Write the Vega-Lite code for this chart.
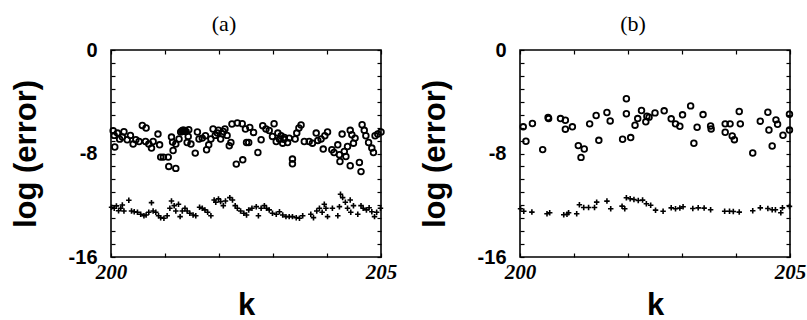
{
  "$schema": "https://vega.github.io/schema/vega-lite/v6.json",
  "padding": {"left": 9, "top": 12, "right": 8, "bottom": 4},
  "background": "white",
  "spacing": 20,
  "config": {
    "view": {"stroke": "black", "strokeWidth": 1.6},
    "title": {"font": "Liberation Serif", "fontSize": 22, "fontWeight": "normal", "color": "black", "offset": 4, "dx": -22}
  },
  "datasets": {
    "a": [
      {"k":200.04,"err":-6.24,"series":"circle"},{"k":200.06,"err":-6.6,"series":"circle"},{"k":200.07,"err":-7.5,"series":"circle"},{"k":200.12,"err":-6.42,"series":"circle"},{"k":200.16,"err":-6.89,"series":"circle"},{"k":200.24,"err":-6.32,"series":"circle"},{"k":200.21,"err":-6.73,"series":"circle"},{"k":200.30,"err":-6.94,"series":"circle"},{"k":200.36,"err":-6.6,"series":"circle"},{"k":200.41,"err":-7.27,"series":"circle"},{"k":200.46,"err":-6.94,"series":"circle"},{"k":200.52,"err":-7.07,"series":"circle"},{"k":200.58,"err":-5.83,"series":"circle"},{"k":200.65,"err":-6.03,"series":"circle"},{"k":200.64,"err":-7.07,"series":"circle"},{"k":200.70,"err":-7.27,"series":"circle"},{"k":200.75,"err":-7.58,"series":"circle"},{"k":200.78,"err":-7.07,"series":"circle"},{"k":200.87,"err":-6.5,"series":"circle"},{"k":200.90,"err":-7.33,"series":"circle"},{"k":200.92,"err":-8.28,"series":"circle"},{"k":200.97,"err":-8.28,"series":"circle"},{"k":201.06,"err":-8.28,"series":"circle"},{"k":201.07,"err":-9.0,"series":"circle"},{"k":201.20,"err":-9.15,"series":"circle"},{"k":201.12,"err":-6.73,"series":"circle"},{"k":201.14,"err":-7.12,"series":"circle"},{"k":201.15,"err":-7.77,"series":"circle"},{"k":201.20,"err":-7.27,"series":"circle"},{"k":201.26,"err":-6.88,"series":"circle"},{"k":201.29,"err":-6.34,"series":"circle"},{"k":201.33,"err":-6.21,"series":"circle"},{"k":201.37,"err":-6.29,"series":"circle"},{"k":201.41,"err":-7.15,"series":"circle"},{"k":201.43,"err":-6.68,"series":"circle"},{"k":201.44,"err":-6.16,"series":"circle"},{"k":201.48,"err":-7.27,"series":"circle"},{"k":201.56,"err":-7.97,"series":"circle"},{"k":201.60,"err":-6.34,"series":"circle"},{"k":201.63,"err":-6.88,"series":"circle"},{"k":201.69,"err":-6.81,"series":"circle"},{"k":201.75,"err":-6.63,"series":"circle"},{"k":201.77,"err":-7.71,"series":"circle"},{"k":201.81,"err":-7.33,"series":"circle"},{"k":201.85,"err":-6.88,"series":"circle"},{"k":201.89,"err":-6.11,"series":"circle"},{"k":201.93,"err":-6.6,"series":"circle"},{"k":201.97,"err":-6.42,"series":"circle"},{"k":202.03,"err":-6.88,"series":"circle"},{"k":202.06,"err":-6.47,"series":"circle"},{"k":202.11,"err":-6.11,"series":"circle"},{"k":202.19,"err":-7.4,"series":"circle"},{"k":202.22,"err":-7.15,"series":"circle"},{"k":202.24,"err":-5.72,"series":"circle"},{"k":202.32,"err":-8.82,"series":"circle"},{"k":202.34,"err":-5.64,"series":"circle"},{"k":202.43,"err":-5.7,"series":"circle"},{"k":202.44,"err":-8.49,"series":"circle"},{"k":202.49,"err":-6.11,"series":"circle"},{"k":202.51,"err":-7.15,"series":"circle"},{"k":202.55,"err":-7.15,"series":"circle"},{"k":202.57,"err":-5.98,"series":"circle"},{"k":202.64,"err":-6.37,"series":"circle"},{"k":202.72,"err":-7.92,"series":"circle"},{"k":202.78,"err":-6.94,"series":"circle"},{"k":202.81,"err":-5.85,"series":"circle"},{"k":202.87,"err":-6.11,"series":"circle"},{"k":202.93,"err":-6.22,"series":"circle"},{"k":202.99,"err":-6.68,"series":"circle"},{"k":203.02,"err":-5.7,"series":"circle"},{"k":203.06,"err":-7.07,"series":"circle"},{"k":203.09,"err":-6.42,"series":"circle"},{"k":203.15,"err":-6.63,"series":"circle"},{"k":203.18,"err":-7.2,"series":"circle"},{"k":203.21,"err":-6.76,"series":"circle"},{"k":203.27,"err":-7.15,"series":"circle"},{"k":203.30,"err":-6.81,"series":"circle"},{"k":203.36,"err":-8.43,"series":"circle"},{"k":203.36,"err":-8.8,"series":"circle"},{"k":203.41,"err":-6.88,"series":"circle"},{"k":203.44,"err":-6.42,"series":"circle"},{"k":203.48,"err":-6.03,"series":"circle"},{"k":203.52,"err":-5.8,"series":"circle"},{"k":203.58,"err":-7.07,"series":"circle"},{"k":203.67,"err":-7.07,"series":"circle"},{"k":203.73,"err":-7.2,"series":"circle"},{"k":203.80,"err":-6.42,"series":"circle"},{"k":203.83,"err":-6.99,"series":"circle"},{"k":203.89,"err":-6.88,"series":"circle"},{"k":203.93,"err":-7.66,"series":"circle"},{"k":203.96,"err":-6.63,"series":"circle"},{"k":204.01,"err":-6.34,"series":"circle"},{"k":204.09,"err":-7.71,"series":"circle"},{"k":204.13,"err":-7.92,"series":"circle"},{"k":204.20,"err":-7.33,"series":"circle"},{"k":204.23,"err":-8.1,"series":"circle"},{"k":204.24,"err":-8.62,"series":"circle"},{"k":204.28,"err":-6.5,"series":"circle"},{"k":204.32,"err":-7.84,"series":"circle"},{"k":204.35,"err":-8.23,"series":"circle"},{"k":204.38,"err":-7.46,"series":"circle"},{"k":204.43,"err":-8.95,"series":"circle"},{"k":204.43,"err":-6.21,"series":"circle"},{"k":204.46,"err":-6.55,"series":"circle"},{"k":204.49,"err":-7.2,"series":"circle"},{"k":204.52,"err":-6.81,"series":"circle"},{"k":204.60,"err":-8.69,"series":"circle"},{"k":204.63,"err":-9.4,"series":"circle"},{"k":204.65,"err":-5.78,"series":"circle"},{"k":204.69,"err":-6.21,"series":"circle"},{"k":204.72,"err":-6.63,"series":"circle"},{"k":204.77,"err":-7.15,"series":"circle"},{"k":204.83,"err":-7.58,"series":"circle"},{"k":204.86,"err":-7.92,"series":"circle"},{"k":204.89,"err":-6.63,"series":"circle"},{"k":204.94,"err":-6.5,"series":"circle"},{"k":205.0,"err":-6.34,"series":"circle"},{"k":201.31,"err":-6.25,"series":"circle"},{"k":201.35,"err":-6.2,"series":"circle"},{"k":201.39,"err":-6.3,"series":"circle"},{"k":201.99,"err":-6.2,"series":"circle"},{"k":202.08,"err":-6.3,"series":"circle"},{"k":202.15,"err":-6.6,"series":"circle"},{"k":203.12,"err":-6.9,"series":"circle"},{"k":203.2,"err":-6.9,"series":"circle"},
      {"k":200.01,"err":-12.16,"series":"plus"},{"k":200.06,"err":-12.23,"series":"plus"},{"k":200.10,"err":-12.05,"series":"plus"},{"k":200.14,"err":-12.42,"series":"plus"},{"k":200.18,"err":-12.23,"series":"plus"},{"k":200.21,"err":-11.98,"series":"plus"},{"k":200.24,"err":-12.44,"series":"plus"},{"k":200.33,"err":-11.61,"series":"plus"},{"k":200.38,"err":-12.44,"series":"plus"},{"k":200.43,"err":-12.5,"series":"plus"},{"k":200.49,"err":-12.54,"series":"plus"},{"k":200.55,"err":-12.7,"series":"plus"},{"k":200.61,"err":-12.81,"series":"plus"},{"k":200.65,"err":-12.75,"series":"plus"},{"k":200.70,"err":-12.54,"series":"plus"},{"k":200.75,"err":-11.8,"series":"plus"},{"k":200.78,"err":-12.44,"series":"plus"},{"k":200.83,"err":-12.54,"series":"plus"},{"k":200.88,"err":-12.81,"series":"plus"},{"k":200.92,"err":-12.96,"series":"plus"},{"k":200.98,"err":-13.01,"series":"plus"},{"k":201.04,"err":-12.81,"series":"plus"},{"k":201.09,"err":-12.23,"series":"plus"},{"k":201.12,"err":-11.67,"series":"plus"},{"k":201.17,"err":-12.03,"series":"plus"},{"k":201.20,"err":-12.44,"series":"plus"},{"k":201.25,"err":-11.92,"series":"plus"},{"k":201.28,"err":-12.88,"series":"plus"},{"k":201.32,"err":-12.44,"series":"plus"},{"k":201.37,"err":-12.23,"series":"plus"},{"k":201.41,"err":-12.44,"series":"plus"},{"k":201.46,"err":-12.62,"series":"plus"},{"k":201.52,"err":-12.75,"series":"plus"},{"k":201.57,"err":-12.81,"series":"plus"},{"k":201.64,"err":-12.16,"series":"plus"},{"k":201.69,"err":-12.23,"series":"plus"},{"k":201.74,"err":-12.36,"series":"plus"},{"k":201.79,"err":-12.54,"series":"plus"},{"k":201.85,"err":-12.81,"series":"plus"},{"k":201.91,"err":-11.59,"series":"plus"},{"k":201.94,"err":-11.77,"series":"plus"},{"k":201.99,"err":-11.51,"series":"plus"},{"k":202.03,"err":-11.72,"series":"plus"},{"k":202.08,"err":-12.03,"series":"plus"},{"k":202.12,"err":-11.67,"series":"plus"},{"k":202.20,"err":-11.41,"series":"plus"},{"k":202.25,"err":-11.59,"series":"plus"},{"k":202.30,"err":-12.03,"series":"plus"},{"k":202.34,"err":-12.23,"series":"plus"},{"k":202.40,"err":-12.44,"series":"plus"},{"k":202.46,"err":-12.62,"series":"plus"},{"k":202.51,"err":-12.75,"series":"plus"},{"k":202.55,"err":-12.36,"series":"plus"},{"k":202.61,"err":-12.23,"series":"plus"},{"k":202.69,"err":-12.11,"series":"plus"},{"k":202.73,"err":-12.81,"series":"plus"},{"k":202.78,"err":-12.23,"series":"plus"},{"k":202.84,"err":-12.03,"series":"plus"},{"k":202.88,"err":-12.23,"series":"plus"},{"k":202.93,"err":-12.36,"series":"plus"},{"k":202.99,"err":-12.62,"series":"plus"},{"k":203.06,"err":-12.7,"series":"plus"},{"k":203.12,"err":-12.5,"series":"plus"},{"k":203.18,"err":-12.75,"series":"plus"},{"k":203.24,"err":-12.88,"series":"plus"},{"k":203.30,"err":-12.88,"series":"plus"},{"k":203.36,"err":-12.88,"series":"plus"},{"k":203.43,"err":-12.96,"series":"plus"},{"k":203.49,"err":-13.01,"series":"plus"},{"k":203.55,"err":-12.81,"series":"plus"},{"k":203.70,"err":-12.7,"series":"plus"},{"k":203.75,"err":-12.96,"series":"plus"},{"k":203.81,"err":-12.44,"series":"plus"},{"k":203.86,"err":-12.23,"series":"plus"},{"k":203.91,"err":-12.54,"series":"plus"},{"k":203.95,"err":-11.92,"series":"plus"},{"k":203.98,"err":-12.23,"series":"plus"},{"k":204.01,"err":-12.88,"series":"plus"},{"k":204.10,"err":-12.23,"series":"plus"},{"k":204.20,"err":-12.81,"series":"plus"},{"k":204.23,"err":-12.11,"series":"plus"},{"k":204.25,"err":-11.15,"series":"plus"},{"k":204.29,"err":-11.41,"series":"plus"},{"k":204.34,"err":-11.77,"series":"plus"},{"k":204.38,"err":-12.23,"series":"plus"},{"k":204.43,"err":-11.59,"series":"plus"},{"k":204.44,"err":-12.54,"series":"plus"},{"k":204.49,"err":-12.03,"series":"plus"},{"k":204.57,"err":-12.7,"series":"plus"},{"k":204.63,"err":-12.03,"series":"plus"},{"k":204.67,"err":-12.23,"series":"plus"},{"k":204.73,"err":-12.36,"series":"plus"},{"k":204.78,"err":-12.19,"series":"plus"},{"k":204.83,"err":-12.5,"series":"plus"},{"k":204.88,"err":-12.88,"series":"plus"},{"k":204.92,"err":-12.54,"series":"plus"},{"k":204.99,"err":-12.23,"series":"plus"}
    ],
    "b": [
      {"k":200.06,"err":-5.94,"series":"circle"},{"k":200.11,"err":-7.05,"series":"circle"},{"k":200.23,"err":-5.68,"series":"circle"},{"k":200.42,"err":-7.7,"series":"circle"},{"k":200.52,"err":-5.22,"series":"circle"},{"k":200.53,"err":-5.3,"series":"circle"},{"k":200.75,"err":-5.3,"series":"circle"},{"k":200.84,"err":-5.43,"series":"circle"},{"k":200.84,"err":-6.12,"series":"circle"},{"k":200.97,"err":-5.94,"series":"circle"},{"k":201.08,"err":-7.39,"series":"circle"},{"k":201.19,"err":-7.65,"series":"circle"},{"k":201.13,"err":-8.3,"series":"circle"},{"k":201.29,"err":-5.71,"series":"circle"},{"k":201.41,"err":-5.06,"series":"circle"},{"k":201.46,"err":-6.98,"series":"circle"},{"k":201.61,"err":-4.83,"series":"circle"},{"k":201.67,"err":-5.48,"series":"circle"},{"k":201.90,"err":-6.9,"series":"circle"},{"k":201.97,"err":-3.77,"series":"circle"},{"k":201.97,"err":-4.93,"series":"circle"},{"k":202.05,"err":-6.77,"series":"circle"},{"k":202.13,"err":-5.81,"series":"circle"},{"k":202.18,"err":-5.3,"series":"circle"},{"k":202.25,"err":-4.68,"series":"circle"},{"k":202.33,"err":-5.55,"series":"circle"},{"k":202.35,"err":-5.12,"series":"circle"},{"k":202.39,"err":-5.19,"series":"circle"},{"k":202.50,"err":-4.86,"series":"circle"},{"k":202.67,"err":-4.7,"series":"circle"},{"k":202.80,"err":-5.32,"series":"circle"},{"k":202.88,"err":-5.71,"series":"circle"},{"k":202.96,"err":-5.89,"series":"circle"},{"k":203.01,"err":-5.01,"series":"circle"},{"k":203.16,"err":-4.32,"series":"circle"},{"k":203.22,"err":-7.21,"series":"circle"},{"k":203.28,"err":-5.97,"series":"circle"},{"k":203.39,"err":-4.99,"series":"circle"},{"k":203.53,"err":-5.87,"series":"circle"},{"k":203.54,"err":-6.1,"series":"circle"},{"k":203.80,"err":-5.71,"series":"circle"},{"k":203.89,"err":-5.71,"series":"circle"},{"k":203.80,"err":-6.36,"series":"circle"},{"k":203.93,"err":-6.64,"series":"circle"},{"k":203.97,"err":-6.93,"series":"circle"},{"k":204.06,"err":-4.75,"series":"circle"},{"k":204.08,"err":-5.71,"series":"circle"},{"k":204.31,"err":-7.96,"series":"circle"},{"k":204.45,"err":-5.5,"series":"circle"},{"k":204.59,"err":-4.81,"series":"circle"},{"k":204.61,"err":-6.18,"series":"circle"},{"k":204.67,"err":-7.42,"series":"circle"},{"k":204.74,"err":-5.4,"series":"circle"},{"k":204.77,"err":-5.74,"series":"circle"},{"k":204.87,"err":-6.59,"series":"circle"},{"k":204.99,"err":-4.96,"series":"circle"},{"k":204.99,"err":-6.18,"series":"circle"},
      {"k":200.01,"err":-12.27,"series":"plus"},{"k":200.07,"err":-12.46,"series":"plus"},{"k":200.22,"err":-12.53,"series":"plus"},{"k":200.50,"err":-12.66,"series":"plus"},{"k":200.55,"err":-12.58,"series":"plus"},{"k":200.81,"err":-12.74,"series":"plus"},{"k":200.87,"err":-12.69,"series":"plus"},{"k":200.90,"err":-12.58,"series":"plus"},{"k":201.05,"err":-12.66,"series":"plus"},{"k":201.10,"err":-11.96,"series":"plus"},{"k":201.18,"err":-12.17,"series":"plus"},{"k":201.27,"err":-12.17,"series":"plus"},{"k":201.38,"err":-12.17,"series":"plus"},{"k":201.42,"err":-11.76,"series":"plus"},{"k":201.61,"err":-11.68,"series":"plus"},{"k":201.68,"err":-12.27,"series":"plus"},{"k":201.89,"err":-12.07,"series":"plus"},{"k":201.94,"err":-12.27,"series":"plus"},{"k":201.97,"err":-11.42,"series":"plus"},{"k":202.04,"err":-11.5,"series":"plus"},{"k":202.11,"err":-11.55,"series":"plus"},{"k":202.19,"err":-11.63,"series":"plus"},{"k":202.27,"err":-11.6,"series":"plus"},{"k":202.34,"err":-11.88,"series":"plus"},{"k":202.42,"err":-12.0,"series":"plus"},{"k":202.51,"err":-12.38,"series":"plus"},{"k":202.65,"err":-12.46,"series":"plus"},{"k":202.80,"err":-12.2,"series":"plus"},{"k":202.88,"err":-12.27,"series":"plus"},{"k":202.96,"err":-12.22,"series":"plus"},{"k":203.02,"err":-12.12,"series":"plus"},{"k":203.20,"err":-12.25,"series":"plus"},{"k":203.30,"err":-12.2,"series":"plus"},{"k":203.41,"err":-12.22,"series":"plus"},{"k":203.53,"err":-12.35,"series":"plus"},{"k":203.79,"err":-12.46,"series":"plus"},{"k":203.88,"err":-12.46,"series":"plus"},{"k":203.95,"err":-12.48,"series":"plus"},{"k":204.06,"err":-12.53,"series":"plus"},{"k":204.31,"err":-12.43,"series":"plus"},{"k":204.45,"err":-12.2,"series":"plus"},{"k":204.59,"err":-12.25,"series":"plus"},{"k":204.67,"err":-12.35,"series":"plus"},{"k":204.73,"err":-12.35,"series":"plus"},{"k":204.83,"err":-12.58,"series":"plus"},{"k":204.86,"err":-12.2,"series":"plus"},{"k":204.99,"err":-12.09,"series":"plus"}
    ]
  },
  "hconcat": [
    {
      "title": "(a)",
      "width": 270,
      "height": 207,
      "data": {"name": "a"},
      "resolve": {"axis": {"x": "independent", "y": "independent"}},
      "layer": [
        {
          "transform": [{"filter": "datum.series == 'circle'"}],
          "mark": {"type": "point", "shape": "circle", "filled": false, "stroke": "black", "strokeWidth": 1.8, "size": 32, "opacity": 1},
          "encoding": {
            "x": {"field": "k", "type": "quantitative", "scale": {"domain": [200, 205], "nice": false, "zero": false},
              "axis": {"orient": "bottom", "values": [200, 201, 202, 203, 204, 205], "format": "d", "labelExpr": "datum.value == 200 || datum.value == 205 ? datum.label : ''", "labelFont": "Liberation Serif", "labelFontStyle": "italic", "labelFontWeight": "bold", "labelFontSize": 21, "labelColor": "black", "labelFlush": false, "labelPadding": 8, "tickSize": -4, "tickColor": "black", "tickWidth": 1.2, "domain": false, "grid": false, "title": "k", "titleFont": "Liberation Sans", "titleFontSize": 31, "titleFontWeight": "bold", "titleColor": "black", "titlePadding": 8}},
            "y": {"field": "err", "type": "quantitative", "scale": {"domain": [-16, 0], "nice": false, "zero": false},
              "axis": {"orient": "left", "values": [-16, -15, -14, -13, -12, -11, -10, -9, -8, -7, -6, -5, -4, -3, -2, -1, 0], "labelExpr": "datum.value == 0 ? '0' : datum.value == -8 ? '-8' : datum.value == -16 ? '-16' : ''", "labelFont": "Liberation Sans", "labelFontWeight": "bold", "labelFontSize": 20, "labelColor": "black", "labelPadding": 18, "tickSize": -4, "tickColor": "black", "tickWidth": 1.2, "domain": false, "grid": false, "title": "log (error)", "titleFont": "Liberation Sans", "titleFontSize": 31, "titleFontWeight": "bold", "titleColor": "black", "titlePadding": 26}}
          }
        },
        {
          "transform": [{"filter": "datum.series == 'plus'"}],
          "mark": {"type": "point", "shape": "M-1,0H1M0,-1V1", "filled": false, "stroke": "black", "strokeWidth": 1.6, "size": 30, "opacity": 1},
          "encoding": {
            "x": {"field": "k", "type": "quantitative", "scale": {"domain": [200, 205], "nice": false, "zero": false},
              "axis": {"orient": "top", "values": [200, 201, 202, 203, 204, 205], "labels": false, "tickSize": -4, "tickColor": "black", "tickWidth": 1.2, "domain": false, "grid": false, "title": null}},
            "y": {"field": "err", "type": "quantitative", "scale": {"domain": [-16, 0], "nice": false, "zero": false},
              "axis": {"orient": "right", "values": [-16, -15, -14, -13, -12, -11, -10, -9, -8, -7, -6, -5, -4, -3, -2, -1, 0], "labels": false, "tickSize": -4, "tickColor": "black", "tickWidth": 1.2, "domain": false, "grid": false, "title": null}}
          }
        }
      ]
    },
    {
      "title": "(b)",
      "width": 270,
      "height": 207,
      "data": {"name": "b"},
      "resolve": {"axis": {"x": "independent", "y": "independent"}},
      "layer": [
        {
          "transform": [{"filter": "datum.series == 'circle'"}],
          "mark": {"type": "point", "shape": "circle", "filled": false, "stroke": "black", "strokeWidth": 1.8, "size": 32, "opacity": 1},
          "encoding": {
            "x": {"field": "k", "type": "quantitative", "scale": {"domain": [200, 205], "nice": false, "zero": false},
              "axis": {"orient": "bottom", "values": [200, 201, 202, 203, 204, 205], "format": "d", "labelExpr": "datum.value == 200 || datum.value == 205 ? datum.label : ''", "labelFont": "Liberation Serif", "labelFontStyle": "italic", "labelFontWeight": "bold", "labelFontSize": 21, "labelColor": "black", "labelFlush": false, "labelPadding": 8, "tickSize": -4, "tickColor": "black", "tickWidth": 1.2, "domain": false, "grid": false, "title": "k", "titleFont": "Liberation Sans", "titleFontSize": 31, "titleFontWeight": "bold", "titleColor": "black", "titlePadding": 8}},
            "y": {"field": "err", "type": "quantitative", "scale": {"domain": [-16, 0], "nice": false, "zero": false},
              "axis": {"orient": "left", "values": [-16, -15, -14, -13, -12, -11, -10, -9, -8, -7, -6, -5, -4, -3, -2, -1, 0], "labelExpr": "datum.value == 0 ? '0' : datum.value == -8 ? '-8' : datum.value == -16 ? '-16' : ''", "labelFont": "Liberation Sans", "labelFontWeight": "bold", "labelFontSize": 20, "labelColor": "black", "labelPadding": 18, "tickSize": -4, "tickColor": "black", "tickWidth": 1.2, "domain": false, "grid": false, "title": "log (error)", "titleFont": "Liberation Sans", "titleFontSize": 31, "titleFontWeight": "bold", "titleColor": "black", "titlePadding": 26}}
          }
        },
        {
          "transform": [{"filter": "datum.series == 'plus'"}],
          "mark": {"type": "point", "shape": "M-1,0H1M0,-1V1", "filled": false, "stroke": "black", "strokeWidth": 1.6, "size": 30, "opacity": 1},
          "encoding": {
            "x": {"field": "k", "type": "quantitative", "scale": {"domain": [200, 205], "nice": false, "zero": false},
              "axis": {"orient": "top", "values": [200, 201, 202, 203, 204, 205], "labels": false, "tickSize": -4, "tickColor": "black", "tickWidth": 1.2, "domain": false, "grid": false, "title": null}},
            "y": {"field": "err", "type": "quantitative", "scale": {"domain": [-16, 0], "nice": false, "zero": false},
              "axis": {"orient": "right", "values": [-16, -15, -14, -13, -12, -11, -10, -9, -8, -7, -6, -5, -4, -3, -2, -1, 0], "labels": false, "tickSize": -4, "tickColor": "black", "tickWidth": 1.2, "domain": false, "grid": false, "title": null}}
          }
        }
      ]
    }
  ]
}
